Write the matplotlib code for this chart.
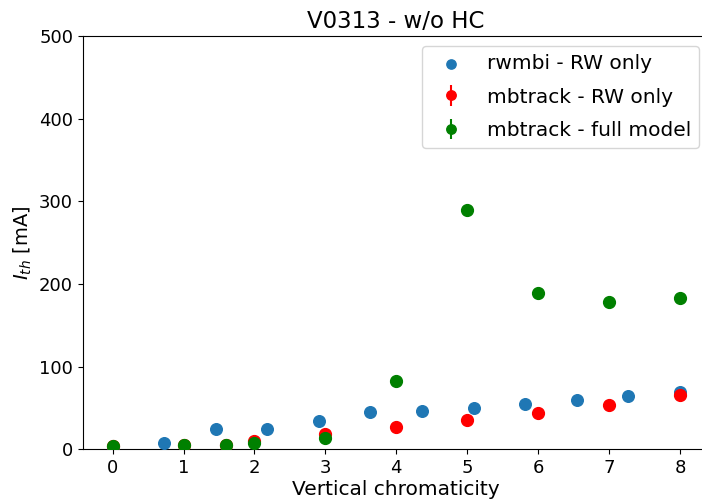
import matplotlib
matplotlib.use("Agg")
import matplotlib.pyplot as plt

# rwmbi - RW only
x_rw = [0, 0.727, 1.455, 2.182, 2.909, 3.636, 4.364, 5.091, 5.818, 6.545, 7.273, 8]
y_rw = [3, 8, 24, 25, 34, 45, 46, 50, 55, 60, 64, 69]

# mbtrack - RW only
x_mb = [0, 1, 1.6, 2, 3, 4, 5, 6, 7, 8]
y_mb = [4, 5, 5, 10, 18, 27, 35, 44, 54, 65]

# mbtrack - full model
x_full = [0, 1, 1.6, 2, 3, 4, 5, 6, 7, 8]
y_full = [4, 5, 5, 7, 14, 83, 289, 189, 178, 183]

fig = plt.figure(figsize=(7.02, 5.03), dpi=100)
ax = fig.add_axes([0.118, 0.107, 0.891, 0.821])

ax.scatter(x_rw, y_rw, s=70, color='tab:blue', label='rwmbi - RW only', zorder=3)
ax.errorbar(x_mb, y_mb, yerr=[0.5]*len(y_mb), fmt='o', color='red', ms=8.5,
            label='mbtrack - RW only', zorder=3)
ax.errorbar(x_full, y_full, yerr=[0.5]*len(y_full), fmt='o', color='green', ms=8.5,
            label='mbtrack - full model', zorder=4)

ax.set_ylim(0, 500)
ax.set_xlim(-0.42, 8.4)
ax.set_xticks(range(9))
ax.set_yticks([0, 100, 200, 300, 400, 500])
ax.tick_params(labelsize=13)
ax.set_xlabel('Vertical chromaticity', fontsize=14.5, labelpad=2)
ax.set_ylabel('$I_{th}$ [mA]', fontsize=14)
ax.set_title('V0313 - w/o HC', fontsize=16.5, pad=6)
ax.legend(loc='upper right', fontsize=14.5, labelspacing=0.7, markerscale=0.8,
          borderaxespad=0.3, bbox_to_anchor=(0.995, 0.99))

fig.savefig('out.png', dpi=100)
